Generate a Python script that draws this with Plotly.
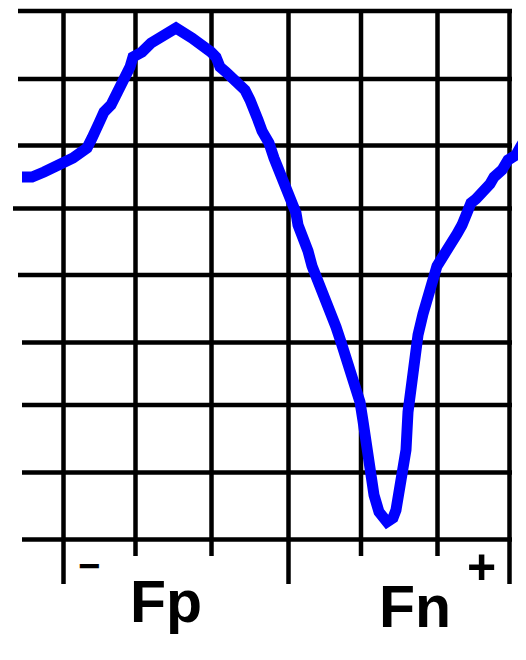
import plotly.graph_objects as go

curve_x = [22, 32, 44, 55, 65, 73, 80, 87, 92, 95, 99, 104, 111, 116, 121, 125, 130, 133,
           142, 151, 159, 164, 176, 192, 200, 207, 211, 216, 220, 226, 230, 238, 245, 250,
           255, 258, 262, 269, 274, 279, 284, 291, 296, 298, 303, 308, 312, 317, 322, 327,
           332, 336, 341, 346, 351, 356, 360, 363, 365, 366, 370, 374, 379, 387, 393, 396,
           401, 406, 408, 413, 418, 423, 428, 432, 437, 442, 447, 452, 457, 462, 466, 471,
           476, 485, 490, 494, 502, 508, 516, 521, 526]
curve_y = [177, 177, 172, 167, 163, 158, 153, 148, 138, 128, 123, 112, 105, 95, 86, 76, 67, 57,
           52, 43, 38, 33, 28, 38, 43, 48, 52, 57, 67, 72, 76, 86, 90, 100,
           110, 120, 131, 143, 158, 170, 186, 201, 213, 225, 237, 251, 266, 278, 290, 302,
           313, 327, 342, 356, 373, 388, 402, 421, 435, 447, 469, 495, 512, 522, 518, 510,
           480, 450, 412, 366, 335, 314, 295, 280, 266, 258, 248, 242, 234, 225, 211, 203,
           199, 190, 184, 177, 170, 160, 155, 146, 138]

# Grid
grid_x = [63.5, 135.5, 211.5, 288.5, 361, 437.5, 509.5]
grid_x_bottom = [584, 556, 556, 584, 556, 556, 584]
grid_y = [11, 79, 145.5, 208.5, 275, 342.5, 405, 472.5, 539.5]
grid_y_left = [18, 18, 18, 13, 18, 22, 22, 22, 22]
grid_right = 512
grid_top = 9

# Labels
labels = ["−", "Fp", "Fn", "+"]
label_x = [89, 166, 415, 481]
label_y = [566, 602, 607, 567]
label_size = [38, 59, 59, 50]

# page offset (browser body margin)
OFF = 8
W, H = 526, 660

fig = go.Figure()

shapes = []
for gx, gb in zip(grid_x, grid_x_bottom):
    shapes.append(dict(type="line", xref="x", yref="y", x0=gx, x1=gx, y0=grid_top, y1=gb,
                       line=dict(color="black", width=4.5), layer="below"))
for gy, gl in zip(grid_y, grid_y_left):
    shapes.append(dict(type="line", xref="x", yref="y", x0=gl, x1=grid_right, y0=gy, y1=gy,
                       line=dict(color="black", width=4.5), layer="below"))

fig.add_trace(go.Scatter(x=curve_x, y=curve_y, mode="lines",
                         line=dict(color="#0000ff", width=11), hoverinfo="skip",
                         showlegend=False, cliponaxis=True))

annotations = []
for t, lx, ly, sz in zip(labels, label_x, label_y, label_size):
    annotations.append(dict(text="<b>%s</b>" % t, x=lx, y=ly, xref="x", yref="y",
                            showarrow=False, xanchor="center", yanchor="middle",
                            font=dict(family="Liberation Sans", size=sz, color="black")))

fig.update_layout(
    width=W - OFF, height=H - OFF,
    margin=dict(l=0, r=0, t=0, b=0),
    paper_bgcolor="white", plot_bgcolor="white",
    xaxis=dict(range=[OFF, W], visible=False, fixedrange=True),
    yaxis=dict(range=[H, OFF], visible=False, fixedrange=True),
    shapes=shapes, annotations=annotations, showlegend=False,
)

fig.write_html("out.html")
